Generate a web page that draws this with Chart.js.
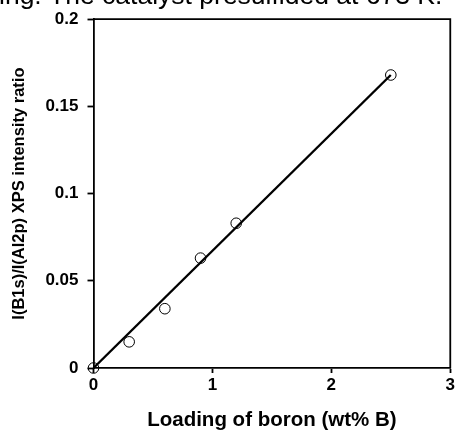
<!DOCTYPE html>
<html>
<head>
<meta charset="utf-8">
<script src="https://cdn.jsdelivr.net/npm/chart.js@4/dist/chart.umd.min.js"></script>
<style>
  html, body { margin: 0; padding: 0; background: #fff; }
  #wrap { width: 457px; height: 435px; position: relative; }
</style>
</head>
<body>
<div id="wrap"><canvas id="c" width="457" height="435"></canvas></div>
<script>
// ---- data ----
const boronLoading = [0, 0.3, 0.6, 0.9, 1.2, 2.5];          // wt% B
const intensityRatio = [0, 0.015, 0.034, 0.063, 0.083, 0.168];
const fitLineX = [0, 2.5];
const fitLineY = [0, 0.168];
const xTicks = [0, 1, 2, 3];
const yTicks = [0, 0.05, 0.1, 0.15, 0.2];
const captionText = 'ing. The catalyst presulfided at 673 K.';
const xTitle = 'Loading of boron (wt% B)';
const yTitle = 'I(B1s)/I(Al2p) XPS intensity ratio';

const FONT = "'Liberation Sans', Arial, sans-serif";

const framePlugin = {
  id: 'frame',
  afterDraw(chart) {
    const { ctx, chartArea: a } = chart;
    ctx.save();
    ctx.strokeStyle = '#000';
    ctx.lineWidth = 1.8;
    ctx.beginPath();
    ctx.moveTo(a.left, a.top);
    ctx.lineTo(a.right, a.top);
    ctx.lineTo(a.right, a.bottom);
    ctx.stroke();
    // clipped caption at the very top
    ctx.fillStyle = '#000';
    ctx.font = '26.5px ' + FONT;
    ctx.textBaseline = 'alphabetic';
    ctx.textAlign = 'left';
    ctx.fillText(captionText, -1, 4);
    ctx.restore();
  }
};

new Chart(document.getElementById('c'), {
  type: 'scatter',
  data: {
    datasets: [
      {
        type: 'line',
        data: fitLineX.map((x, i) => ({ x, y: fitLineY[i] })),
        borderColor: '#000',
        borderWidth: 2.4,
        pointRadius: 0,
        fill: false,
        tension: 0,
        clip: false
      },
      {
        data: boronLoading.map((x, i) => ({ x, y: intensityRatio[i] })),
        pointStyle: 'circle',
        pointRadius: 5.3,
        pointBorderWidth: 1,
        pointBorderColor: '#000',
        pointBackgroundColor: 'rgba(0,0,0,0)',
        showLine: false,
        clip: false
      }
    ]
  },
  options: {
    responsive: false,
    animation: false,
    devicePixelRatio: 1,
    layout: { padding: { top: 13.5, right: 6, left: 0, bottom: 0 } },
    plugins: { legend: { display: false }, tooltip: { enabled: false } },
    scales: {
      x: {
        type: 'linear',
        min: 0, max: 3,
        afterBuildTicks(s) { s.ticks = xTicks.map(v => ({ value: v })); },
        afterFit(s) { s.height = 67; },
        grid: { drawOnChartArea: false, tickLength: 5, color: '#000', tickWidth: 1.8 },
        border: { color: '#000', width: 1.8 },
        ticks: { color: '#000', padding: 2, callback: v => String(v),
                 font: { family: FONT, size: 17, weight: 'bold' } },
        title: { display: true, text: xTitle, color: '#000', padding: { top: 2, bottom: 2 },
                 font: { family: FONT, size: 20.5, weight: 'bold', lineHeight: 1.2 } }
      },
      y: {
        type: 'linear',
        min: 0, max: 0.2,
        afterBuildTicks(s) { s.ticks = yTicks.map(v => ({ value: v })); },
        afterFit(s) { s.width = 93.5; },
        grid: { drawOnChartArea: false, tickLength: 6, color: '#000', tickWidth: 1.8 },
        border: { color: '#000', width: 1.8 },
        ticks: { color: '#000', padding: 9, callback: v => String(v),
                 font: { family: FONT, size: 17, weight: 'bold' } },
        title: { display: true, text: yTitle, color: '#000', padding: { top: 9.5, bottom: 9.5 },
                 font: { family: FONT, size: 16.5, weight: 'bold', lineHeight: 1.2 } }
      }
    }
  },
  plugins: [framePlugin]
});
</script>
</body>
</html>
